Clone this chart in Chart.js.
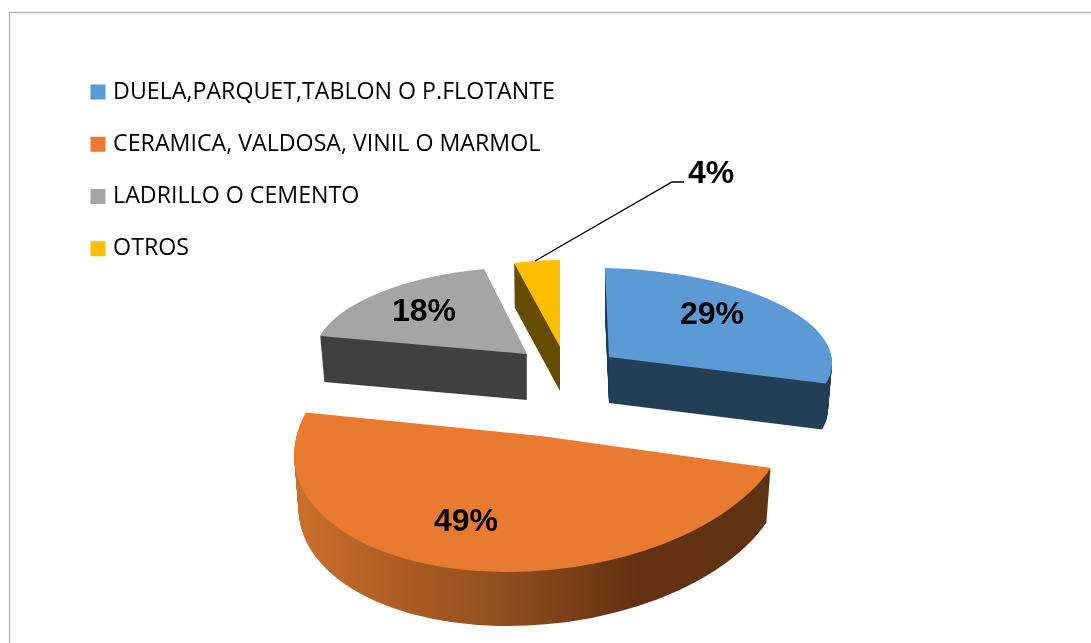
<!DOCTYPE html>
<html>
<head>
<meta charset="utf-8">
<style>html,body{margin:0;padding:0;background:#fff;overflow:hidden}canvas{display:block}</style>
<script src="https://cdn.jsdelivr.net/npm/chart.js@4"></script>
</head>
<body>
<canvas id="c" width="1091" height="643"></canvas>
<script>
const categories = ['DUELA,PARQUET,TABLON O P.FLOTANTE','CERAMICA, VALDOSA, VINIL O MARMOL','LADRILLO O CEMENTO','OTROS'];
const values = [29, 49, 18, 4];
const faceColors = ['#5b9ad5', '#e97b30', '#a5a5a5', '#fdbf00'];
const sideColors = ['#243f57', null, '#404040', '#664d00'];

// Per-slice 3D view: affine pose of each exploded wedge (a perspective stand-in)
const sliceViews = [
  {cx:609, cy:357, a:223, b:4,   d:4.5, e:89,  depth:46, shrink:.018},
  {cx:541, cy:436, a:245, b:-30, d:-2,  e:136, depth:54, shrink:.018},
  {cx:527, cy:354, a:212.8, b:-10.3, d:1.7, e:87.3, depth:46, shrink:.02},
  {cx:560, cy:347, a:185, b:0,   d:-1,  e:87,  depth:44, shrink:.01}
];
const labelAnchors = [[712,315],[466,522],[424,312],[711,174]];
const leaderPath = [[535,261],[672,182],[684,182]];

const pie3d = {
  id:'pie3d',
  beforeDraw(chart){
    const c = chart.ctx;
    c.save();
    c.strokeStyle = '#b9b9b9'; c.lineWidth = 1.4;
    c.beginPath(); c.moveTo(9.5,643); c.lineTo(9.5,12.5); c.lineTo(1091,12.5); c.stroke();
    c.restore();
  },
  beforeDatasetDraw(chart){
    const c = chart.ctx;
    const arcs = chart.getDatasetMeta(0).data;
    arcs.forEach((el,i)=>{
      const v = sliceViews[i];
      const R = el.outerRadius;
      const place = (t)=>{
        c.setTransform(1,0,0,1,0,0);
        c.translate(v.cx, v.cy + v.depth*t);
        c.scale(1 - v.shrink*t, 1);
        c.transform(v.a/R, v.d/R, v.b/R, v.e/R, 0, 0);
        c.translate(-el.x, -el.y);
      };
      c.save();
      let fill = sideColors[i];
      if(!fill){
        fill = c.createLinearGradient(296,0,768,0);
        fill.addColorStop(0,'#ca702c');
        fill.addColorStop(.2,'#b15e25');
        fill.addColorStop(.45,'#8e4d1f');
        fill.addColorStop(.72,'#633112');
        fill.addColorStop(1,'#5f3212');
      }
      for(let s=v.depth; s>=1; s--){
        place(s/v.depth);
        c.beginPath();
        c.moveTo(el.x,el.y);
        c.arc(el.x,el.y,R,el.startAngle,el.endAngle);
        c.closePath();
        c.setTransform(1,0,0,1,0,0);
        c.fillStyle = fill;
        c.fill();
      }
      place(0);
      el.draw(c, chart.chartArea);
      c.restore();
    });
    return false;
  },
  afterDatasetsDraw(chart){
    const c = chart.ctx;
    c.save();
    c.strokeStyle = '#000'; c.lineWidth = 1.3;
    c.beginPath();
    leaderPath.forEach((p,i)=> i? c.lineTo(p[0],p[1]) : c.moveTo(p[0],p[1]));
    c.stroke();
    c.fillStyle = '#000';
    c.font = 'bold 32px "Liberation Sans"';
    c.textAlign = 'center'; c.textBaseline = 'middle';
    values.forEach((v,i)=> c.fillText(v+'%', labelAnchors[i][0], labelAnchors[i][1]));
    c.restore();
  }
};

new Chart(document.getElementById('c'), {
  type:'pie',
  data:{labels:categories, datasets:[{data:values, backgroundColor:faceColors, borderWidth:0, clip:false}]},
  options:{
    responsive:false, animation:false,
    layout:{padding:{left:65.5, top:51.5, right:0, bottom:0}},
    plugins:{
      tooltip:{enabled:false},
      legend:{
        position:'left', align:'start',
        labels:{
          boxWidth:7, boxHeight:7, padding:29,
          color:'#000',
          font:{family:'Open Sans', size:23.2},
          generateLabels(chart){
            return Chart.overrides.pie.plugins.legend.labels.generateLabels(chart).map(l=>({...l, lineWidth:8, strokeStyle:l.fillStyle, lineJoin:'miter'}));
          }
        }
      }
    }
  },
  plugins:[pie3d]
});
</script>
</body>
</html>
